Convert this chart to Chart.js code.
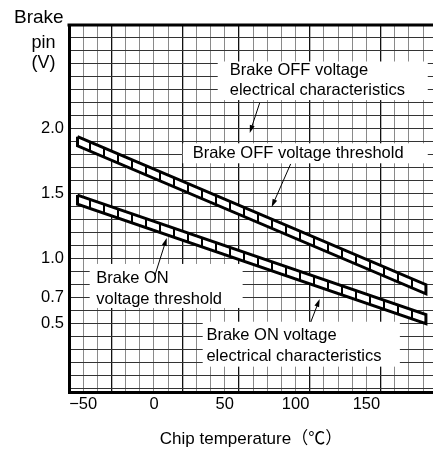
<!DOCTYPE html>
<html>
<head>
<meta charset="utf-8">
<script src="https://cdn.jsdelivr.net/npm/chart.js@4.4.1/dist/chart.umd.min.js"></script>
<style>
  html, body { margin: 0; padding: 0; background: #fff; overflow: hidden; }
</style>
</head>
<body>
<canvas id="chart" width="433" height="451"></canvas>
<script>
// values
const bandTemps = [-54, 192];          // band start / end (°C)
const offUpper = [1.94, 0.80];         // brake OFF band, upper edge (V)
const offLower = [1.87, 0.73];         // brake OFF band, lower edge (V)
const onUpper = [1.49, 0.57];          // brake ON band, upper edge (V)
const onLower = [1.42, 0.50];          // brake ON band, lower edge (V)
const xTickLabels = [-50, 0, 50, 100, 150];
const yTickLabels = [0.5, 0.7, 1.0, 1.5, 2.0];
const xMajorGrid = [-30, 20, 60, 110, 160];

const FONT = '"Liberation Sans", Arial, "Noto Sans CJK JP", sans-serif';

// callouts, placed in data units
const notes = [
  { lines: ['Brake OFF voltage', 'electrical characteristics'],
    box: [45, 193.3, 2.519, 2.222], textX: 53.5, textY: [2.448, 2.294],
    arrow: [74.6, 2.199, 67.6, 1.968] },
  { lines: ['Brake OFF voltage threshold'],
    box: [20.3, 193.3, 1.889, 1.735], textX: 27.3, textY: [1.812],
    arrow: [96.5, 1.730, 83.1, 1.398] },
  { lines: ['Brake ON', 'voltage threshold'],
    box: [-45.4, 62.6, 0.960, 0.621], textX: -40.7, textY: [0.849, 0.688],
    arrow: [0.5, 0.867, 9.0, 1.160] },
  { lines: ['Brake ON voltage', 'electrical characteristics'],
    box: [34.4, 173.6, 0.515, 0.169], textX: 37, textY: [0.413, 0.251],
    arrow: [110.7, 0.513, 117.0, 0.690] }
];

function bandShape(upper, lower) {
  return [
    { x: bandTemps[0], y: upper[0] },
    { x: bandTemps[1], y: upper[1] },
    { x: bandTemps[1], y: lower[1] },
    { x: bandTemps[0], y: lower[0] },
    { x: bandTemps[0], y: upper[0] }
  ];
}

// ladder rungs inside the bands
function ladder() {
  const c = document.createElement('canvas');
  c.width = 14; c.height = 4;
  const g = c.getContext('2d');
  g.fillStyle = '#fff';
  g.fillRect(0, 0, 14, 4);
  g.fillStyle = '#000';
  g.fillRect(5, 0, 2, 4);
  return g.createPattern(c, 'repeat');
}

function arrow(ctx, x1, y1, x2, y2) {
  const a = Math.atan2(y2 - y1, x2 - x1);
  const c = Math.cos(a), s = Math.sin(a);
  ctx.beginPath();
  ctx.moveTo(x1, y1);
  ctx.lineTo(x2 - 5 * c, y2 - 5 * s);
  ctx.stroke();
  ctx.beginPath();
  ctx.moveTo(x2, y2);
  ctx.lineTo(x2 - 8 * c + 2.5 * s, y2 - 8 * s - 2.5 * c);
  ctx.lineTo(x2 - 8 * c - 2.5 * s, y2 - 8 * s + 2.5 * c);
  ctx.closePath();
  ctx.fill();
}

const notesPlugin = {
  id: 'notes',
  afterDraw(chart) {
    const { ctx, chartArea } = chart;
    const x = chart.scales.x, y = chart.scales.y;
    ctx.save();

    // top frame line
    ctx.strokeStyle = '#000';
    ctx.lineWidth = 3;
    ctx.beginPath();
    ctx.moveTo(chartArea.left - 1.5, chartArea.top);
    ctx.lineTo(chartArea.right, chartArea.top);
    ctx.stroke();

    // callouts
    ctx.font = '16.5px ' + FONT;
    ctx.textBaseline = 'middle';
    ctx.textAlign = 'left';
    notes.forEach(n => {
      const x1 = x.getPixelForValue(n.box[0]), x2 = x.getPixelForValue(n.box[1]);
      const y1 = y.getPixelForValue(n.box[2]), y2 = y.getPixelForValue(n.box[3]);
      ctx.fillStyle = '#fff';
      ctx.fillRect(x1, y1, x2 - x1, y2 - y1);
      ctx.fillStyle = '#000';
      n.lines.forEach((t, i) => {
        ctx.fillText(t, x.getPixelForValue(n.textX), y.getPixelForValue(n.textY[i]));
      });
      ctx.strokeStyle = '#000';
      ctx.lineWidth = 1;
      arrow(ctx,
        x.getPixelForValue(n.arrow[0]), y.getPixelForValue(n.arrow[1]),
        x.getPixelForValue(n.arrow[2]), y.getPixelForValue(n.arrow[3]));
    });

    // y axis title, stacked at the top left
    ctx.fillStyle = '#000';
    ctx.textBaseline = 'alphabetic';
    ctx.font = '19px ' + FONT;
    ctx.fillText('Brake', 14, 22.5);
    ctx.font = '18px ' + FONT;
    ctx.fillText('pin', 31.5, 48);
    ctx.fillText('(V)', 31.5, 67.5);
    ctx.restore();
  }
};

const pattern = ladder();

new Chart(document.getElementById('chart'), {
  type: 'line',
  data: {
    datasets: [
      {
        label: 'Brake OFF voltage',
        data: bandShape(offUpper, offLower),
        fill: 'shape',
        backgroundColor: pattern,
        borderColor: '#000',
        borderWidth: 3,
        borderJoinStyle: 'miter',
        pointRadius: 0,
        tension: 0
      },
      {
        label: 'Brake ON voltage',
        data: bandShape(onUpper, onLower),
        fill: 'shape',
        backgroundColor: pattern,
        borderColor: '#000',
        borderWidth: 3,
        borderJoinStyle: 'miter',
        pointRadius: 0,
        tension: 0
      }
    ]
  },
  options: {
    responsive: false,
    animation: false,
    layout: { padding: { top: 25, left: 0, right: 0, bottom: 0 } },
    plugins: {
      legend: { display: false },
      tooltip: { enabled: false }
    },
    scales: {
      x: {
        type: 'linear',
        min: -60,
        max: 197,
        afterFit: s => { s.height = 58.5; },
        ticks: {
          stepSize: 10,
          includeBounds: false,
          autoSkip: false,
          maxRotation: 0,
          padding: 2,
          color: '#000',
          font: { family: FONT, size: 16.5 },
          callback: v => xTickLabels.includes(v) ? String(v).replace('-', '\u2212') : ''
        },
        grid: {
          drawTicks: false,
          color: c => xMajorGrid.includes(c.tick.value) ? '#111' : '#8a8a8a',
          lineWidth: c => xMajorGrid.includes(c.tick.value) ? 1.3 : 1
        },
        border: { display: true, color: '#000', width: 3 },
        title: {
          display: true,
          text: 'Chip temperature（℃）',
          color: '#000',
          font: { family: FONT, size: 17 },
          padding: { top: 0, bottom: 1 }
        }
      },
      y: {
        type: 'linear',
        min: -0.03,
        max: 2.8,
        afterFit: s => { s.width = 69; },
        ticks: {
          stepSize: 0.1,
          includeBounds: false,
          autoSkip: false,
          padding: 5,
          color: '#000',
          font: { family: FONT, size: 16.5 },
          callback: v => {
            const r = Math.round(v * 10) / 10;
            return yTickLabels.includes(r) ? r.toFixed(1) : '';
          }
        },
        grid: { drawTicks: false, color: '#333', lineWidth: 1 },
        border: { display: true, color: '#000', width: 3 }
      }
    }
  },
  plugins: [notesPlugin]
});
</script>
</body>
</html>
